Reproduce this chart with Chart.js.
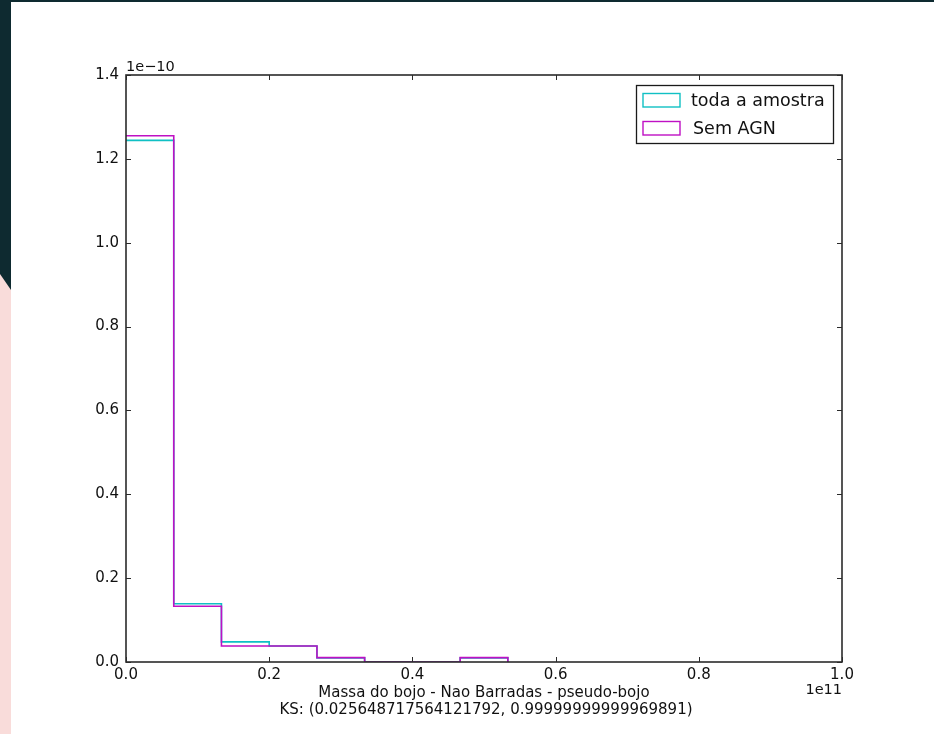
<!DOCTYPE html>
<html>
<head>
<meta charset="utf-8">
<script src="https://cdn.jsdelivr.net/npm/chart.js@4.4.0/dist/chart.umd.min.js"></script>
<style>
  html, body { margin: 0; padding: 0; width: 934px; height: 734px; overflow: hidden; background: #ffffff; }
  #topband { position: absolute; left: 0; top: 0; width: 934px; height: 2px; background: #0e2a30; }
  #sideband { position: absolute; left: 0; top: 0; width: 11px; height: 734px; background: #f9dcda; }
  #sidedark { position: absolute; left: 0; top: 0; width: 11px; height: 292px; background: #0e2a30;
              clip-path: polygon(0 0, 11px 0, 11px 290px, 0 274px); }
  #wrap { position: absolute; left: 11px; top: 2px; width: 923px; height: 732px; background: #ffffff; }
</style>
</head>
<body>
<div id="topband"></div>
<div id="sideband"></div>
<div id="sidedark"></div>
<div id="wrap"><canvas id="c" width="923" height="732"></canvas></div>
<script>
// Histogram bin edges (units of 1e11) and densities (units of 1e-10)
const binEdges = [0, 0.0667, 0.1333, 0.2, 0.2667, 0.3333, 0.4, 0.4667, 0.5333];
const todaAmostra = [1.244, 0.139, 0.048, 0.038, 0.0098, 0, 0, 0.0098];
const semAGN = [1.255, 0.133, 0.038, 0.038, 0.0105, 0, 0, 0.0105];
const seriesNames = ['toda a amostra', 'Sem AGN'];
const xTicks = [0, 0.2, 0.4, 0.6, 0.8, 1.0];
const yTicks = [0, 0.2, 0.4, 0.6, 0.8, 1.0, 1.2, 1.4];
const xLabel = 'Massa do bojo - Nao Barradas - pseudo-bojo';
const ksLabel = 'KS: (0.025648717564121792, 0.99999999999969891)';
const xOffsetText = '1e11';
const yOffsetText = '1e\u221210';

const CYAN = '#10c0c4';
const MAGENTA = '#bf10c4';
const FONT = '"DejaVu Sans", sans-serif';

// Outline of a step histogram: walk along the bin edges
// (the first bin's left side lies on the y axis, so it starts at its top)
function stepOutline(edges, vals) {
  const pts = [];
  for (let i = 0; i < vals.length; i++) {
    pts.push({ x: edges[i], y: vals[i] });
    pts.push({ x: edges[i + 1], y: vals[i] });
  }
  pts.push({ x: edges[edges.length - 1], y: 0 });
  return pts;
}

// Frame, inward ticks, offset texts and axis label
const framePlugin = {
  id: 'frame',
  afterDraw(chart) {
    const { ctx, chartArea: a, scales } = chart;
    ctx.save();
    ctx.strokeStyle = '#2b2b2b';
    ctx.lineWidth = 1.6;
    ctx.strokeRect(a.left, a.top, a.right - a.left, a.bottom - a.top);
    const tl = 5;
    ctx.beginPath();
    xTicks.forEach(v => {
      const px = Math.round(scales.x.getPixelForValue(v)) + 0.5;
      ctx.moveTo(px, a.bottom); ctx.lineTo(px, a.bottom - tl);
      ctx.moveTo(px, a.top); ctx.lineTo(px, a.top + tl);
    });
    yTicks.forEach(v => {
      const py = Math.round(scales.y.getPixelForValue(v)) + 0.5;
      ctx.moveTo(a.left, py); ctx.lineTo(a.left + tl, py);
      ctx.moveTo(a.right, py); ctx.lineTo(a.right - tl, py);
    });
    ctx.lineWidth = 1;
    ctx.stroke();

    ctx.fillStyle = '#111';
    ctx.textBaseline = 'alphabetic';
    ctx.font = '14.5px ' + FONT;
    ctx.textAlign = 'left';
    ctx.fillText(yOffsetText, a.left, a.top - 4);
    ctx.textAlign = 'right';
    ctx.fillText(xOffsetText, a.right, a.bottom + 32);

    ctx.font = '15px ' + FONT;
    ctx.textAlign = 'center';
    const cx = (a.left + a.right) / 2;
    ctx.fillText(xLabel, cx, a.bottom + 35);
    ctx.fillText(ksLabel, cx + 2, a.bottom + 52);
    ctx.restore();
  }
};

// Legend box in the upper right corner
const legendPlugin = {
  id: 'boxLegend',
  afterDraw(chart) {
    const { ctx, chartArea: a } = chart;
    const bw = 197, bh = 58;
    const bx = a.right - 9 - bw, by = a.top + 10;
    ctx.save();
    ctx.fillStyle = '#ffffff';
    ctx.fillRect(bx, by, bw, bh);
    ctx.strokeStyle = '#1a1a1a';
    ctx.lineWidth = 1.3;
    ctx.strokeRect(bx + 0.5, by + 0.5, bw, bh);
    const colors = [CYAN, MAGENTA];
    const rows = [by + 15, by + 43];
    ctx.font = '17.5px ' + FONT;
    ctx.textBaseline = 'middle';
    ctx.textAlign = 'left';
    seriesNames.forEach((name, i) => {
      ctx.strokeStyle = colors[i];
      ctx.lineWidth = 1.4;
      ctx.strokeRect(bx + 7, rows[i] - 6.5, 37, 13.5);
      ctx.fillStyle = '#111';
      ctx.fillText(name, bx + 55 + (i === 1 ? 2 : 0), rows[i] + 1);
    });
    ctx.restore();
  }
};

new Chart(document.getElementById('c'), {
  type: 'line',
  data: {
    datasets: [
      { label: seriesNames[1], data: stepOutline(binEdges, semAGN), borderColor: MAGENTA,
        borderWidth: 1.6, pointRadius: 0, tension: 0, fill: false, order: 0, clip: 0 },
      { label: seriesNames[0], data: stepOutline(binEdges, todaAmostra), borderColor: CYAN,
        borderWidth: 1.6, pointRadius: 0, tension: 0, fill: false, order: 1, clip: 0 }
    ]
  },
  options: {
    responsive: false,
    animation: false,
    devicePixelRatio: 1,
    layout: { padding: { left: 55, top: 73, right: 92, bottom: 32 } },
    plugins: { legend: { display: false }, tooltip: { enabled: false } },
    scales: {
      x: {
        type: 'linear', min: 0, max: 1.0,
        afterFit(s) { s.height = 40; },
        afterBuildTicks(s) { s.ticks = xTicks.map(v => ({ value: v })); },
        grid: { display: false, drawTicks: false },
        border: { display: false },
        ticks: { padding: 4, color: '#111', font: { family: FONT, size: 15 },
                 maxRotation: 0, callback: v => v.toFixed(1) }
      },
      y: {
        type: 'linear', min: 0, max: 1.4,
        afterFit(s) { s.width = 60; },
        afterBuildTicks(s) { s.ticks = yTicks.map(v => ({ value: v })); },
        grid: { display: false, drawTicks: false },
        border: { display: false },
        ticks: { padding: 7, color: '#111', font: { family: FONT, size: 15 },
                 callback: v => v.toFixed(1) }
      }
    }
  },
  plugins: [framePlugin, legendPlugin]
});
</script>
</body>
</html>
